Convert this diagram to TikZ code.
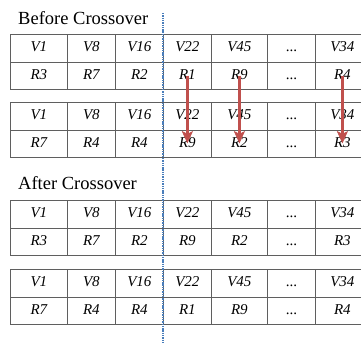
\documentclass[tikz,border=0pt]{standalone}
\usepackage{fontspec}
\setmainfont{Liberation Serif}
\usetikzlibrary{arrows.meta}
\definecolor{gridgray}{HTML}{5F5F5F}
\definecolor{swapred}{HTML}{C0504D}
\definecolor{cutblue}{HTML}{4A7EBB}
% elided genes
\newcommand\gapdots{\textup{...}}
% one row of genes: #1 = name prefix, #2 = top edge, #3 = cell texts
\newcommand\generow[3]{%
  \foreach \t [count=\c] in {#3} {%
    \pgfmathsetmacro\cellx{{10,67,115,163,211,267,315}[\c-1]}%
    \pgfmathsetmacro\cellw{{57,48,48,48,56,48,54}[\c-1]}%
    \node[cell, minimum width=\cellw pt] (#1-\c) at (\cellx,#2) {\t};
  }%
}
\begin{document}
\begin{tikzpicture}[x=1pt,y=-1pt,
  cell/.style={draw=gridgray, line width=0.8pt, minimum height=27.5pt,
    inner sep=0pt, text height=10.5pt, text depth=3pt, anchor=north west,
    font=\fontsize{15}{15}\selectfont\itshape},
  heading/.style={anchor=west, inner sep=0pt, font=\fontsize{18.5}{18.5}\selectfont},
  swapline/.style={draw=swapred, line width=2.4pt},
  swaptip/.style={fill=swapred, draw=swapred, line width=0.6pt, line join=miter},
  cutline/.style={draw=cutblue, line width=1.6pt, dash pattern=on 1.4pt off 0.9pt}]
\useasboundingbox (0,0) rectangle (361,343);

\node[heading] (before) at (18,18) {Before Crossover};
\generow{pa}{34}{V1,V8,V16,V22,V45,\gapdots,V34}
\generow{pb}{61.5}{R3,R7,R2,R1,R9,\gapdots,R4}
\generow{qa}{102}{V1,V8,V16,V22,V45,\gapdots,V34}
\generow{qb}{129.5}{R7,R4,R4,R9,R2,\gapdots,R3}

\node[heading] (after) at (18,183) {After Crossover};
\generow{ra}{200}{V1,V8,V16,V22,V45,\gapdots,V34}
\generow{rb}{227.5}{R3,R7,R2,R9,R2,\gapdots,R3}
\generow{sa}{269}{V1,V8,V16,V22,V45,\gapdots,V34}
\generow{sb}{296.5}{R7,R4,R4,R1,R9,\gapdots,R4}

% crossover point
\coordinate (cuttop) at (163,13);
\coordinate (cutbot) at (163,343);
\draw[cutline] (cuttop) -- (cutbot);

% exchanged genes: shaft plus a filled head
\foreach \c in {4,5,7} {
  \coordinate (tip\c) at ([yshift=1pt]qb-\c.center);
  \draw[swapline] (pb-\c.center) -- ([yshift=6pt]tip\c);
  \filldraw[swaptip] (tip\c) -- ++(-5,-11) -- ++(5,2.5) -- ++(5,-2.5) -- cycle;
}
\end{tikzpicture}
\end{document}
